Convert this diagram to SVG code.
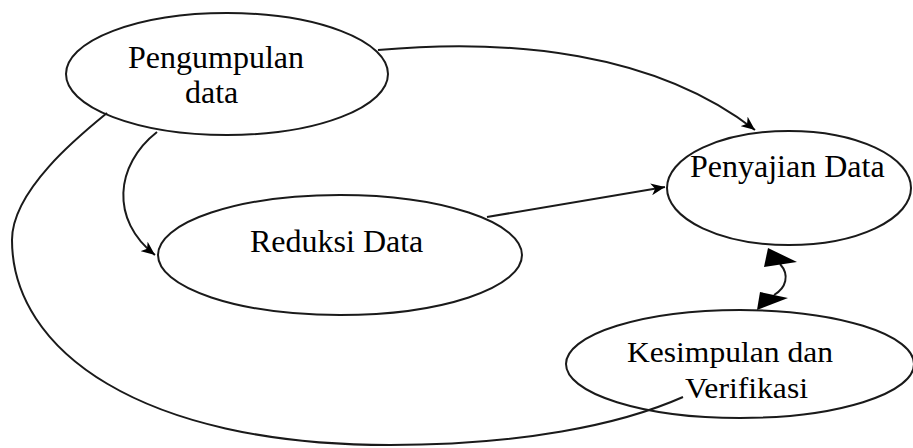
<svg xmlns="http://www.w3.org/2000/svg" width="913" height="448" viewBox="0 0 913 448">
<style>
.node ellipse{fill:none;stroke:#1a1a1a;stroke-width:2}
.lbl{font-family:"Liberation Serif","Times New Roman",serif;fill:#000}
.conn path{fill:none;stroke:#1a1a1a;stroke-width:2}
.head{fill:#000}
</style>
<defs>
<marker id="arr" markerUnits="userSpaceOnUse" markerWidth="16" markerHeight="12" refX="14" refY="6" orient="auto">
<path d="M0,0 L14,6 L0,12 L4,6 Z" fill="#000"/>
</marker>
</defs>
<rect width="913" height="448" fill="#fff"/>
<g id="connectors" class="conn">
<path id="e-pengumpulan-penyajian" d="M378,50 C 510,38 655,52 755,130" marker-end="url(#arr)"/>
<path id="e-pengumpulan-reduksi" d="M157,132 C 115,165 110,220 155,255" marker-end="url(#arr)"/>
<path id="e-reduksi-penyajian" d="M487,217 L 665,187" marker-end="url(#arr)"/>
<path id="e-pengumpulan-kesimpulan" d="M107,113 C 80,135 12,190 12,240 C 12,350 140,445 390,445 C 520,445 620,425 683,397"/>
<path id="e-penyajian-kesimpulan" d="M780,264 C 790,275 786,288 774,295"/>
<polygon class="head" points="768,248 797,262 764,267"/>
<polygon class="head" points="757,310 760,292 788,298"/>
</g>
<g id="pengumpulan" class="node">
<ellipse cx="227" cy="74" rx="161" ry="61"/>
<text class="lbl" font-size="32" x="128" y="68">Pengumpulan</text>
<text class="lbl" font-size="32" x="185" y="103">data</text>
</g>
<g id="reduksi" class="node">
<ellipse cx="340" cy="255" rx="182" ry="60"/>
<text class="lbl" font-size="32" x="250" y="252">Reduksi Data</text>
</g>
<g id="penyajian" class="node">
<ellipse cx="789" cy="188" rx="122" ry="57"/>
<text class="lbl" font-size="32" x="690" y="177">Penyajian Data</text>
</g>
<g id="kesimpulan" class="node">
<ellipse cx="740" cy="364" rx="174" ry="54"/>
<text class="lbl" font-size="30" x="627" y="362" textLength="206" lengthAdjust="spacingAndGlyphs">Kesimpulan dan</text>
<text class="lbl" font-size="30" x="685" y="398" textLength="123" lengthAdjust="spacingAndGlyphs">Verifikasi</text>
</g>
</svg>
